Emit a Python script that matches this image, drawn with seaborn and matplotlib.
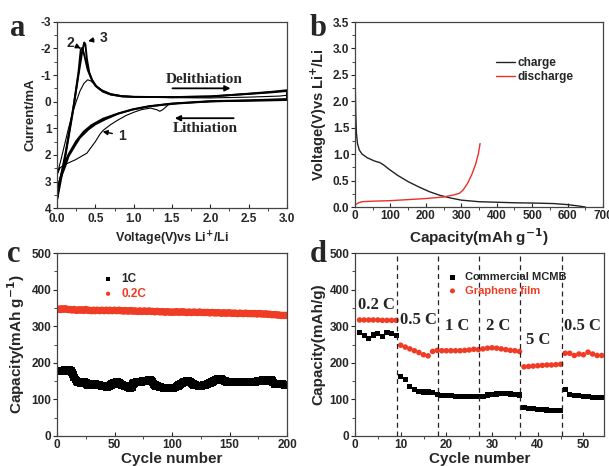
import numpy as np
import pandas as pd
import seaborn as sns
import matplotlib.pyplot as plt
from matplotlib.ticker import MultipleLocator

# ---- panel a: cyclic voltammetry (V, mA) ----
cv1_v = [0.0, 0.05, 0.1, 0.15, 0.2, 0.25, 0.3, 0.35, 0.40, 0.44, 0.5, 0.58, 0.7, 0.85, 1.0, 1.5, 2.0, 2.5, 2.9, 3.0,
         3.0, 2.9, 2.5, 2.0, 1.6, 1.45, 1.38, 1.34, 1.3, 1.22, 1.1, 1.0, 0.9, 0.8, 0.7, 0.6, 0.56, 0.5, 0.39, 0.24, 0.1, 0.04, 0.0]
cv1_i = [2.75, 2.2, 1.6, 1.0, 0.45, 0.0, -0.4, -0.68, -0.82, -0.78, -0.62, -0.45, -0.3, -0.22, -0.19, -0.15, -0.14, -0.17, -0.21, -0.24,
         -0.05, -0.04, -0.03, 0.0, 0.05, 0.12, 0.3, 0.36, 0.3, 0.24, 0.3, 0.4, 0.52, 0.68, 0.86, 1.08, 1.22, 1.5, 1.93, 2.18, 2.36, 2.48, 2.75]
cv2_v = [0.0, 0.11, 0.22, 0.28, 0.31, 0.33, 0.36, 0.4, 0.45, 0.5, 0.6, 0.7, 0.85, 1.0, 1.5, 2.0, 2.5, 2.8, 3.0,
         3.0, 2.5, 2.0, 1.5, 1.2, 0.98, 0.8, 0.63, 0.5, 0.41, 0.3, 0.24, 0.15, 0.11, 0.05, 0.02, 0.0]
cv2_i = [3.5, 1.95, 0.1, -1.1, -1.95, -2.02, -1.7, -1.2, -0.85, -0.6, -0.38, -0.27, -0.2, -0.18, -0.17, -0.2, -0.29, -0.35, -0.4,
         -0.07, -0.04, -0.01, 0.08, 0.18, 0.3, 0.45, 0.66, 0.85, 1.04, 1.35, 1.62, 2.05, 2.4, 2.85, 3.18, 3.55]
cv3_v = [0.0, 0.1, 0.2, 0.28, 0.33, 0.355, 0.37, 0.39, 0.42, 0.46, 0.52, 0.6, 0.7, 0.85, 1.0, 1.5, 2.0, 2.5, 2.8, 3.0,
         3.0, 2.5, 2.0, 1.5, 1.2, 1.0, 0.8, 0.6, 0.45, 0.35, 0.25, 0.15, 0.08, 0.03, 0.0]
cv3_i = [3.7, 2.2, 0.5, -1.0, -1.9, -2.22, -2.15, -1.6, -1.1, -0.8, -0.55, -0.38, -0.27, -0.2, -0.18, -0.17, -0.19, -0.3, -0.37, -0.43,
         -0.1, -0.05, -0.02, 0.07, 0.17, 0.28, 0.44, 0.64, 0.88, 1.12, 1.48, 1.98, 2.5, 3.0, 3.65]

# ---- panel b: charge / discharge (mAh/g, V) ----
charge_cap = [0, 1, 2, 4, 7, 12, 20, 35, 55, 70, 80, 95, 120, 150, 180, 210, 240, 270, 300, 350, 400, 450, 500, 560, 600, 630, 650]
charge_v = [2.5, 2.2, 1.8, 1.4, 1.2, 1.08, 1.0, 0.93, 0.87, 0.84, 0.80, 0.72, 0.60, 0.48, 0.38, 0.29, 0.22, 0.17, 0.13, 0.10, 0.09,
            0.08, 0.075, 0.065, 0.045, 0.02, 0.0]
dis_cap = [0, 10, 20, 50, 100, 150, 200, 250, 280, 295, 305, 318, 330, 340, 348, 353]
dis_v = [0.04, 0.08, 0.10, 0.11, 0.12, 0.14, 0.16, 0.19, 0.23, 0.26, 0.32, 0.45, 0.62, 0.80, 1.0, 1.2]

# ---- panel c: cycling (200 cycles) ----
cap_1c = [176, 177, 176, 178, 177, 179, 180, 179, 178, 179,
          180, 178, 174, 168, 160, 154, 150, 148, 147, 146,
          144, 145, 146, 147, 145, 142, 140, 141, 140, 139,
          140, 141, 142, 141, 140, 139, 139, 138, 137, 137,
          136, 135, 134, 134, 136, 138, 140, 142, 144, 145,
          146, 147, 146, 144, 142, 140, 139, 138, 137, 136,
          135, 133, 131, 130, 132, 142, 145, 146, 147, 146,
          147, 148, 148, 149, 150, 150, 151, 151, 152, 153,
          154, 152, 147, 142, 139, 137, 136, 135, 134, 134,
          133, 132, 131, 131, 130, 130, 130, 130, 130, 131,
          131, 132, 133, 135, 137, 139, 141, 143, 145, 147,
          148, 149, 150, 150, 149, 147, 145, 142, 140, 139,
          138, 138, 137, 137, 137, 138, 138, 139, 140, 141,
          142, 143, 144, 146, 148, 150, 152, 153, 154, 155,
          156, 157, 156, 154, 152, 150, 149, 148, 148, 148,
          147, 147, 148, 148, 147, 147, 146, 147, 147, 148,
          147, 147, 146, 147, 147, 148, 148, 147, 147, 148,
          148, 148, 149, 149, 150, 150, 151, 152, 153, 153,
          150, 151, 152, 153, 154, 153, 150, 146, 142, 141,
          142, 141, 142, 141, 141, 142, 141, 140, 141, 140]
cap_02c = [346, 347, 345, 348, 347, 346, 348, 347, 346, 345,
           346, 345, 344, 345, 346, 344, 343, 344, 345, 344,
           344, 345, 343, 344, 346, 344, 343, 344, 343, 342,
           343, 344, 342, 343, 344, 343, 342, 343, 344, 343,
           342, 343, 344, 343, 342, 344, 343, 342, 343, 344,
           343, 342, 343, 344, 342, 343, 342, 341, 343, 342,
           342, 341, 342, 343, 341, 342, 341, 342, 341, 340,
           341, 342, 341, 340, 341, 342, 341, 340, 341, 342,
           341, 340, 341, 340, 339, 340, 341, 340, 339, 340,
           339, 340, 339, 338, 339, 340, 339, 338, 339, 338,
           339, 338, 339, 340, 338, 339, 338, 339, 340, 338,
           339, 338, 337, 338, 339, 338, 337, 338, 339, 338,
           338, 337, 338, 339, 338, 337, 338, 337, 338, 337,
           338, 337, 336, 337, 338, 337, 336, 337, 336, 337,
           337, 336, 335, 336, 337, 336, 335, 336, 337, 336,
           336, 335, 336, 335, 336, 335, 334, 335, 336, 335,
           335, 334, 335, 336, 335, 334, 335, 334, 335, 334,
           334, 335, 334, 333, 334, 335, 334, 333, 334, 333,
           333, 334, 333, 332, 333, 332, 331, 332, 331, 332,
           331, 330, 331, 330, 329, 330, 329, 330, 329, 330]

# ---- panel d: rate capability (54 cycles) ----
mcmb = [282, 274, 266, 276, 279, 271, 282, 281, 275,
        163, 155, 136, 127, 122, 120, 120, 118,
        113, 111, 110, 110, 108, 108, 107, 107, 108, 109,
        108, 112, 114, 115, 116, 116, 115, 114, 112,
        78, 76, 75, 73, 72, 71, 70, 70, 69,
        126, 114, 111, 110, 108, 107, 106, 106, 106]
graphene = [317, 317, 317, 317, 317, 316, 316, 316, 316,
            248, 243, 238, 233, 228, 222, 219, 231,
            234, 233, 233, 233, 233, 233, 234, 235, 237, 236,
            238, 240, 241, 240, 238, 236, 234, 233, 231,
            189, 190, 191, 192, 193, 194, 194, 195, 196,
            226, 226, 220, 224, 222, 229, 224, 220, 220]
rate_bounds = [9.2, 18.2, 27.2, 36.2, 45.2]
rate_labels = ['0.2 C', '0.5 C', '1 C', '2 C', '5 C', '0.5 C']
rate_label_x = [4.8, 13.8, 22.3, 31.3, 40.0, 49.7]
rate_label_y = [358, 317, 300, 300, 262, 300]

sns.set_theme(style='ticks')
plt.rcParams['font.family'] = ['Liberation Sans', 'DejaVu Sans']
plt.rcParams['font.weight'] = 'bold'
plt.rcParams['axes.labelweight'] = 'bold'
plt.rcParams['axes.linewidth'] = 0.9
plt.rcParams['axes.edgecolor'] = '#444444'
plt.rcParams['axes.unicode_minus'] = False

fig = plt.figure(figsize=(6.09, 4.66), dpi=100, facecolor='white')
W, H = 609.0, 466.0


def add_ax(x0, x1, y0, y1):
    return fig.add_axes([x0 / W, 1 - y1 / H, (x1 - x0) / W, (y1 - y0) / H])


def style(ax, fs=8.5, xpad=2):
    ax.tick_params(axis='x', direction='in', length=3, width=0.8, labelsize=fs, pad=xpad)
    ax.tick_params(axis='y', direction='out', length=3, width=0.8, labelsize=fs, pad=1)
    ax.tick_params(which='minor', length=2, width=0.6)
    for lab in ax.get_xticklabels() + ax.get_yticklabels():
        lab.set_fontweight('bold')


serif = ['Liberation Serif', 'DejaVu Serif']

# ---------- a ----------
axa = add_ax(57, 287, 21.7, 208.3)
for v, i, lw in [(cv1_v, cv1_i, 0.8), (cv2_v, cv2_i, 1.4), (cv3_v, cv3_i, 1.4)]:
    sns.lineplot(x=v, y=i, sort=False, estimator=None, color='black', lw=lw, ax=axa)
axa.set_xlim(0, 3.0)
axa.set_ylim(4, -3)
axa.xaxis.set_major_locator(MultipleLocator(0.5))
axa.xaxis.set_minor_locator(MultipleLocator(0.25))
axa.yaxis.set_major_locator(MultipleLocator(1))
axa.yaxis.set_minor_locator(MultipleLocator(0.5))
axa.set_xlabel('Voltage(V)vs Li$^{\\mathbf{+}}$/Li', fontsize=9, labelpad=3)
axa.set_ylabel('Current/mA', fontsize=9.5, labelpad=3)
style(axa, xpad=3.5)
arw = dict(arrowstyle='-|>', color='black', lw=1.3, mutation_scale=8)
axa.annotate('', xy=(2.3, -0.5), xytext=(1.47, -0.5), arrowprops=arw)
axa.text(1.92, -0.85, 'Delithiation', family=serif, fontsize=11, fontweight='bold', ha='center', va='center')
axa.annotate('', xy=(1.5, 0.62), xytext=(2.34, 0.62), arrowprops=arw)
axa.text(1.93, 1.0, 'Lithiation', family=serif, fontsize=11, fontweight='bold', ha='center', va='center')
arw2 = dict(arrowstyle='-|>', color='black', lw=1.0, mutation_scale=7)
axa.annotate('1', xy=(0.56, 1.1), xytext=(0.8, 1.27), fontsize=10, fontweight='bold', va='center',
             arrowprops=arw2)
axa.annotate('2', xy=(0.31, -2.0), xytext=(0.12, -2.2), fontsize=10, fontweight='bold', va='center',
             arrowprops=arw2)
axa.annotate('3', xy=(0.37, -2.25), xytext=(0.56, -2.4), fontsize=10, fontweight='bold', va='center',
             arrowprops=arw2)

# ---------- b ----------
axb = add_ax(355, 603, 22, 207)
sns.lineplot(x=charge_cap, y=charge_v, sort=False, estimator=None, color='#222222', lw=1.0, ax=axb, label='charge')
sns.lineplot(x=dis_cap, y=dis_v, sort=False, estimator=None, color='#e8312a', lw=1.0, ax=axb, label='discharge')
axb.set_xlim(0, 700)
axb.set_ylim(0, 3.5)
axb.xaxis.set_major_locator(MultipleLocator(100))
axb.xaxis.set_minor_locator(MultipleLocator(50))
axb.yaxis.set_major_locator(MultipleLocator(0.5))
axb.yaxis.set_minor_locator(MultipleLocator(0.25))
axb.set_xlabel('Capacity(mAh g$^{\\mathbf{-1}}$)', fontsize=11, labelpad=3)
axb.set_ylabel('Voltage(V)vs Li$^{\\mathbf{+}}$/Li', fontsize=10.5, labelpad=3)
style(axb)
axb.legend(loc='upper left', bbox_to_anchor=(0.54, 0.85), frameon=False, fontsize=8.5,
           handlelength=1.6, handletextpad=0.2, labelspacing=0.2, borderpad=0.1)

# ---------- c ----------
axc = add_ax(57, 287, 253, 436)
cyc_c = np.arange(1, len(cap_1c) + 1)
sns.scatterplot(x=cyc_c, y=cap_1c, marker='s', s=30, color='black', edgecolor='none', ax=axc, label='1C')
sns.scatterplot(x=cyc_c, y=cap_02c, marker='o', s=26, color='#f03c24', edgecolor='none', ax=axc, label='0.2C')
axc.set_xlim(0, 200)
axc.set_ylim(0, 500)
axc.xaxis.set_major_locator(MultipleLocator(50))
axc.xaxis.set_minor_locator(MultipleLocator(25))
axc.yaxis.set_major_locator(MultipleLocator(100))
axc.yaxis.set_minor_locator(MultipleLocator(50))
axc.set_xlabel('Cycle number', fontsize=11, labelpad=1)
axc.set_ylabel('Capacity(mAh g$^{\\mathbf{-1}}$)', fontsize=11, labelpad=3)
style(axc)
leg = axc.legend(loc='upper left', bbox_to_anchor=(0.14, 0.93), frameon=False, fontsize=8.5,
                 handletextpad=0.1, labelspacing=0.25, markerscale=0.6, borderpad=0.1)
leg.get_texts()[1].set_color('#f03c24')

# ---------- d ----------
axd = add_ax(355, 604, 253, 436)
cyc_d = np.arange(1, len(mcmb) + 1)
sns.scatterplot(x=cyc_d, y=mcmb, marker='s', s=14, color='black', edgecolor='none', ax=axd, label='Commercial MCMB')
sns.scatterplot(x=cyc_d, y=graphene, marker='o', s=16, color='#f03c24', edgecolor='none', ax=axd, label='Graphene film')
for xb in rate_bounds:
    axd.axvline(xb, color='#222222', ls=(0, (4, 3)), lw=0.9)
for t, tx, ty in zip(rate_labels, rate_label_x, rate_label_y):
    axd.text(tx, ty, t, family=serif, fontsize=12, fontweight='bold', ha='center', va='center')
axd.set_xlim(0, 54.5)
axd.set_ylim(0, 500)
axd.xaxis.set_major_locator(MultipleLocator(10))
axd.xaxis.set_minor_locator(MultipleLocator(5))
axd.yaxis.set_major_locator(MultipleLocator(100))
axd.yaxis.set_minor_locator(MultipleLocator(50))
axd.set_xlabel('Cycle number', fontsize=11, labelpad=1)
axd.set_ylabel('Capacity(mAh/g)', fontsize=11, labelpad=3)
style(axd)
leg = axd.legend(loc='upper left', bbox_to_anchor=(0.32, 0.93), frameon=False, fontsize=8,
                 handletextpad=0.1, labelspacing=0.3, markerscale=0.9, borderpad=0.1)
leg.get_texts()[1].set_color('#f03c24')

# panel letters
for lbl, x, y in [('a', 18, 28), ('b', 318, 28), ('c', 14, 254), ('d', 318, 254)]:
    fig.text(x / W, 1 - y / H, lbl, family=serif, fontsize=22, fontweight='bold', ha='center', va='center')

fig.savefig('out.png', dpi=100, facecolor='white')
